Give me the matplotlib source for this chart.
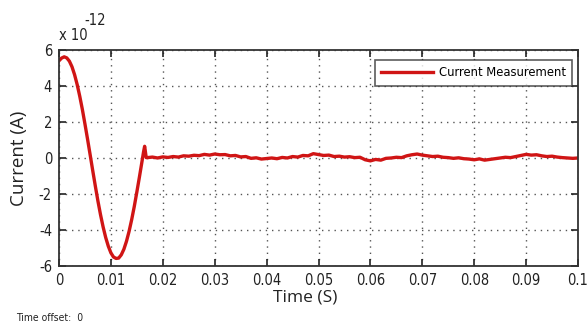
import matplotlib
matplotlib.use("Agg")
import matplotlib.pyplot as plt
from matplotlib import font_manager

# Time (s) and current (x1e-12 A)
t_transient = [0.0, 0.0005, 0.001, 0.0015, 0.002, 0.0025, 0.003, 0.0035, 0.004,
               0.0045, 0.005, 0.0055, 0.006, 0.0065, 0.007, 0.0075, 0.008, 0.0085,
               0.009, 0.0095, 0.010, 0.0105, 0.011, 0.0115, 0.012, 0.0125, 0.013,
               0.0135, 0.014, 0.0145, 0.015, 0.0155, 0.016, 0.0163, 0.0165, 0.0166,
               0.0168]
i_transient = [5.40, 5.55, 5.62, 5.56, 5.38, 5.07, 4.63, 4.08, 3.43,
               2.70, 1.89, 1.05, 0.18, -0.70, -1.56, -2.39, -3.15, -3.83,
               -4.42, -4.90, -5.27, -5.50, -5.58, -5.56, -5.38, -5.07, -4.63,
               -4.08, -3.43, -2.70, -1.89, -1.05, -0.18, 0.35, 0.65, 0.45,
               0.02]

t_steady = [0.017, 0.018, 0.019, 0.020, 0.021, 0.022, 0.023, 0.024, 0.025, 0.026,
            0.027, 0.028, 0.029, 0.030, 0.031, 0.032, 0.033, 0.034, 0.035, 0.036,
            0.037, 0.038, 0.039, 0.040, 0.041, 0.042, 0.043, 0.044, 0.045, 0.046,
            0.047, 0.048, 0.049, 0.050, 0.051, 0.052, 0.053, 0.054, 0.055, 0.056,
            0.057, 0.058, 0.059, 0.060, 0.061, 0.062, 0.063, 0.064, 0.065, 0.066,
            0.067, 0.068, 0.069, 0.070, 0.071, 0.072, 0.073, 0.074, 0.075, 0.076,
            0.077, 0.078, 0.079, 0.080, 0.081, 0.082, 0.083, 0.084, 0.085, 0.086,
            0.087, 0.088, 0.089, 0.090, 0.091, 0.092, 0.093, 0.094, 0.095, 0.096,
            0.097, 0.098, 0.099, 0.100]
i_steady = [0.02, 0.05, 0.00, 0.06, 0.03, 0.08, 0.05, 0.12, 0.10, 0.15,
            0.13, 0.20, 0.16, 0.22, 0.18, 0.19, 0.12, 0.14, 0.06, 0.08,
            -0.02, 0.01, -0.06, -0.03, 0.00, -0.04, 0.03, 0.00, 0.08, 0.05,
            0.14, 0.12, 0.24, 0.19, 0.14, 0.16, 0.08, 0.10, 0.05, 0.07,
            0.02, 0.04, -0.10, -0.16, -0.08, -0.12, -0.02, 0.00, 0.04, 0.02,
            0.12, 0.18, 0.22, 0.16, 0.12, 0.08, 0.10, 0.04, 0.02, -0.02,
            0.01, -0.04, -0.06, -0.10, -0.05, -0.12, -0.08, -0.04, 0.00, 0.04,
            0.02, 0.08, 0.14, 0.20, 0.16, 0.18, 0.12, 0.08, 0.10, 0.05,
            0.02, 0.00, -0.02, 0.00]

time = t_transient + t_steady
current = i_transient + i_steady

x_ticks = [0, 0.01, 0.02, 0.03, 0.04, 0.05, 0.06, 0.07, 0.08, 0.09, 0.1]
x_tick_labels = ["0", "0.01", "0.02", "0.03", "0.04", "0.05", "0.06", "0.07",
                 "0.08", "0.09", "0.1"]
y_ticks = [-6, -4, -2, 0, 2, 4, 6]
y_tick_labels = ["-6", "-4", "-2", "0", "2", "4", "6"]

narrow_fp = font_manager.FontProperties(family="DejaVu Sans", stretch="condensed",
                                        size=10.5)
legend_fp = font_manager.FontProperties(family="DejaVu Sans", stretch="condensed",
                                        size=9.3)
small_fp = font_manager.FontProperties(family="DejaVu Sans", stretch="condensed",
                                       size=7.5)
label_font = ["Open Sans", "DejaVu Sans"]

fig = plt.figure(figsize=(5.87, 3.31), dpi=100)
ax = fig.add_axes([0.1005, 0.1964, 0.8842, 0.6526])

ax.plot(time, current, color="#d01515", linewidth=2.4, label="Current Measurement")

ax.set_xlim(0, 0.1)
ax.set_ylim(-6, 6)
ax.set_xticks(x_ticks)
ax.set_xticklabels(x_tick_labels, fontproperties=narrow_fp)
ax.set_yticks(y_ticks)
ax.set_yticklabels(y_tick_labels, fontproperties=narrow_fp)
ax.tick_params(direction="in", top=True, right=True, length=5, width=1.2,
               pad=5, colors="#222222")
ax.grid(True, color="#555555", linestyle=(0, (1, 3.5)), linewidth=1.0)
for s in ax.spines.values():
    s.set_linewidth(1.3)
    s.set_color("#333333")

ax.set_xlabel("Time (S)", fontfamily=label_font, fontsize=12.5, color="#222222")
ax.xaxis.set_label_coords(0.475, -0.11)
ax.set_ylabel("Current (A)", fontfamily=label_font, fontsize=13.5, color="#222222")
ax.yaxis.set_label_coords(-0.060, 0.5)

leg = ax.legend(loc="upper right", bbox_to_anchor=(0.989, 0.955), frameon=True,
                fancybox=False, edgecolor="#333333", handlelength=4.0,
                handletextpad=0.45, borderpad=0.5, borderaxespad=0.0,
                prop=legend_fp)
leg.get_frame().set_linewidth(1.2)

fig.text(0.100, 0.880, "x 10", fontproperties=narrow_fp, color="#222222")
fig.text(0.143, 0.925, "-12", fontproperties=narrow_fp, color="#222222")
fig.text(0.027, 0.03, "Time offset:  0", fontproperties=small_fp, color="#222222")

fig.savefig("out.png", dpi=100)
